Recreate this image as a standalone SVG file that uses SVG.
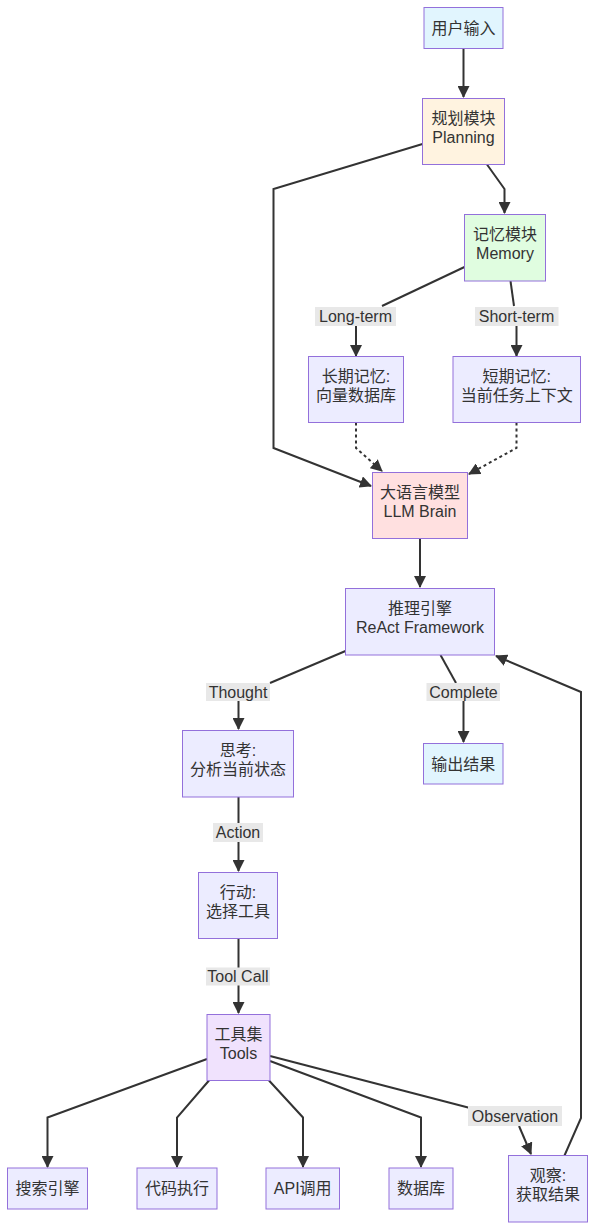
<svg xmlns="http://www.w3.org/2000/svg" width="595" height="1230" viewBox="0 0 595 1230">
<defs>
<marker id="ah" markerUnits="userSpaceOnUse" markerWidth="12" markerHeight="12" refX="11" refY="6" orient="auto">
<path d="M0,0 L12,6 L0,12 z" fill="#333"/>
</marker>
<style>
.n rect{stroke:#9370db;stroke-width:1;fill:#ececff}
.n text,.l text{font-family:"Liberation Sans","Noto Sans CJK SC",sans-serif;font-size:16px;fill:#333;text-anchor:middle}
.e path{fill:none;stroke:#333;stroke-width:2}
.e .d{stroke-dasharray:3 3}
.l rect{fill:#e8e8e8;stroke:none}
.blue rect{fill:#e1f5fe}
.orange rect{fill:#fff3e0}
.green rect{fill:#e0fde0}
.red rect{fill:#ffe0e0}
.purple rect{fill:#f0e2fd}
</style>
</defs>
<rect width="595" height="1230" fill="#fff"/>
<g id="edges" class="e">
<path d="M463.5,48.5 V97" marker-end="url(#ah)"/>
<path d="M487,164.5 L504.5,189 V213" marker-end="url(#ah)"/>
<path d="M422.5,144 L273.5,189 V448 L371,486" marker-end="url(#ah)"/>
<path d="M464.5,267 L382,306"/>
<path d="M356,326 V356" marker-end="url(#ah)"/>
<path d="M510.5,281 L514,306"/>
<path d="M516.5,326 V356" marker-end="url(#ah)"/>
<path class="d" d="M356,422.5 V448 L382,471" marker-end="url(#ah)"/>
<path class="d" d="M516.5,422.5 V448 L469,474" marker-end="url(#ah)"/>
<path d="M420,538.5 V587" marker-end="url(#ah)"/>
<path d="M345.5,651 L270,683"/>
<path d="M238.5,700 V729" marker-end="url(#ah)"/>
<path d="M440.5,655 L456,683"/>
<path d="M463.5,700 V742" marker-end="url(#ah)"/>
<path d="M238.5,797 V823"/>
<path d="M238.5,842 V871" marker-end="url(#ah)"/>
<path d="M238.5,938.5 V968"/>
<path d="M238.5,985 V1013" marker-end="url(#ah)"/>
<path d="M207,1059 L47.5,1117.5 V1167" marker-end="url(#ah)"/>
<path d="M209,1080.5 L177,1117.5 V1167" marker-end="url(#ah)"/>
<path d="M269,1080.5 L303,1117.5 V1167" marker-end="url(#ah)"/>
<path d="M270,1061 L421,1117.5 V1167" marker-end="url(#ah)"/>
<path d="M270,1056 L470,1108"/>
<path d="M519,1126 L531,1154" marker-end="url(#ah)"/>
<path d="M564.5,1155.5 L581,1118 V692 L496,656" marker-end="url(#ah)"/>
</g>
<g id="labels" class="l">
<g id="lbl-long"><rect x="315" y="307" width="81" height="19"/><text x="355.5" y="322">Long-term</text></g>
<g id="lbl-short"><rect x="475" y="307" width="83.5" height="19"/><text x="516.5" y="322">Short-term</text></g>
<g id="lbl-thought"><rect x="206" y="683" width="64" height="18"/><text x="238" y="697.5">Thought</text></g>
<g id="lbl-complete"><rect x="426.5" y="683" width="73.5" height="18"/><text x="463.5" y="697.5">Complete</text></g>
<g id="lbl-action"><rect x="213" y="823" width="50" height="19"/><text x="238" y="838">Action</text></g>
<g id="lbl-toolcall"><rect x="206" y="967.5" width="64" height="18"/><text x="238" y="982">Tool Call</text></g>
<g id="lbl-obs"><rect x="468" y="1106" width="94" height="20"/><text x="515" y="1121.5">Observation</text></g>
</g>
<g id="input" class="n blue"><rect x="424" y="7.5" width="79" height="41"/><text x="463.5" y="33.5">用户输入</text></g>
<g id="planning" class="n orange"><rect x="422.5" y="98.5" width="82" height="66"/><text x="463.5" y="123.5">规划模块</text><text x="463.5" y="143">Planning</text></g>
<g id="memory" class="n green"><rect x="464.5" y="214.5" width="81" height="66.5"/><text x="505" y="239.5">记忆模块</text><text x="505" y="259">Memory</text></g>
<g id="longmem" class="n"><rect x="308.5" y="356.5" width="95" height="66"/><text x="356" y="381.5">长期记忆:</text><text x="356" y="401">向量数据库</text></g>
<g id="shortmem" class="n"><rect x="453" y="356.5" width="127.5" height="66"/><text x="516.7" y="381.5">短期记忆:</text><text x="516.7" y="401">当前任务上下文</text></g>
<g id="llm" class="n red"><rect x="372.5" y="472.5" width="95" height="66"/><text x="420" y="497.5">大语言模型</text><text x="420" y="517">LLM Brain</text></g>
<g id="react" class="n"><rect x="345.5" y="588.5" width="149" height="66.5"/><text x="420" y="613.5">推理引擎</text><text x="420" y="633">ReAct Framework</text></g>
<g id="thought" class="n"><rect x="182.5" y="730.5" width="111" height="66.5"/><text x="238" y="755.5">思考:</text><text x="238" y="775">分析当前状态</text></g>
<g id="output" class="n blue"><rect x="423.5" y="743.5" width="79.5" height="40.5"/><text x="463.2" y="769.5">输出结果</text></g>
<g id="action" class="n"><rect x="198.5" y="872.5" width="79" height="66"/><text x="238" y="897.5">行动:</text><text x="238" y="917">选择工具</text></g>
<g id="tools" class="n purple"><rect x="207" y="1014.5" width="63" height="66"/><text x="238.5" y="1039.5">工具集</text><text x="238.5" y="1059">Tools</text></g>
<g id="search" class="n"><rect x="7.5" y="1168" width="80" height="41"/><text x="47.5" y="1194">搜索引擎</text></g>
<g id="code" class="n"><rect x="137" y="1168" width="80" height="41"/><text x="177" y="1194">代码执行</text></g>
<g id="api" class="n"><rect x="266" y="1168" width="73.5" height="41"/><text x="302.7" y="1194">API调用</text></g>
<g id="db" class="n"><rect x="389" y="1168" width="64" height="41"/><text x="421" y="1194">数据库</text></g>
<g id="observe" class="n"><rect x="508.5" y="1155.5" width="79" height="66.5"/><text x="548" y="1180.5">观察:</text><text x="548" y="1200">获取结果</text></g>
</svg>
